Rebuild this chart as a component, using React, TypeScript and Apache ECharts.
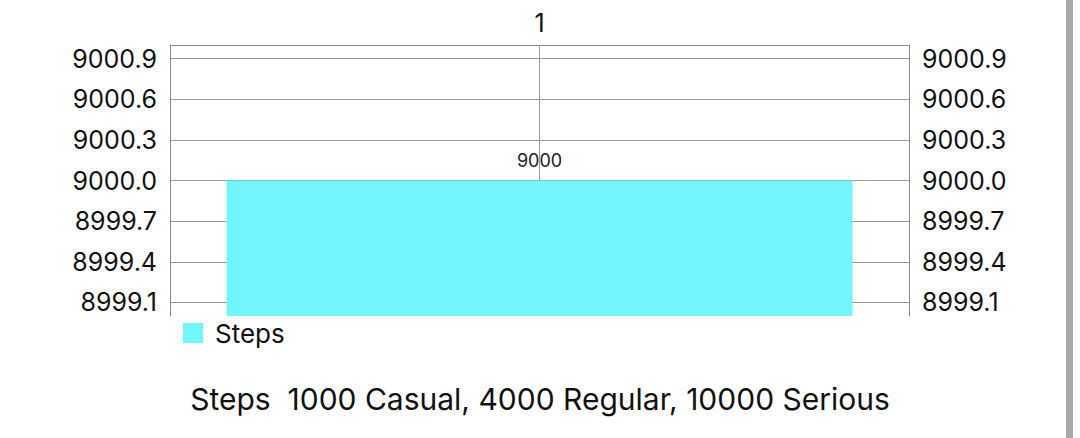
import React, { useEffect, useRef } from "react";
import * as echarts from "echarts";

const categories = ["1"];
const stepsValues = [9000];
const yTicks = [8999.1, 8999.4, 8999.7, 9000.0, 9000.3, 9000.6, 9000.9];
const yMin = 8999.0;
const yMax = 9001.0;
const seriesName = "Steps";
const titleText = "Steps  1000 Casual, 4000 Regular, 10000 Serious";

const FONT = "Inter, 'Noto Sans', sans-serif";

export default function App() {
  const ref = useRef<HTMLDivElement>(null);
  useEffect(() => {
    if (!ref.current) return;
    const chart = echarts.init(ref.current, undefined, { renderer: "svg" });
    const yAxisCommon = {
      type: "value",
      min: yMin,
      max: yMax,
      axisLine: { show: true, lineStyle: { color: "#8a8a8a", width: 1 } },
      axisTick: { show: false, customValues: yTicks },
      axisLabel: {
        customValues: yTicks,
        formatter: (v: number) => v.toFixed(1),
        fontFamily: FONT,
        fontSize: 25,
        color: "#111",
        margin: 13,
      },
      splitLine: { show: true, lineStyle: { color: "#999", width: 1 } },
    };
    chart.setOption({
      animation: false,
      backgroundColor: "#fff",
      textStyle: { fontFamily: FONT },
      title: {
        text: titleText,
        left: "center",
        top: 384,
        padding: 0,
        textStyle: { fontFamily: FONT, fontSize: 30, fontWeight: "normal", color: "#111" },
      },
      legend: {
        data: [seriesName],
        left: 183,
        top: 320,
        padding: 0,
        itemWidth: 20,
        itemHeight: 20,
        itemGap: 10,
        icon: "rect",
        textStyle: { fontFamily: FONT, fontSize: 26, color: "#111", padding: [0, 0, 0, 7] },
      },
      grid: { left: 170, right: 171, top: 45, bottom: 122 },
      xAxis: [
        {
          type: "category",
          data: categories,
          position: "top",
          axisLine: { show: true, lineStyle: { color: "#8a8a8a" } },
          axisTick: { show: false },
          axisLabel: { fontFamily: FONT, fontSize: 25, color: "#111", margin: 10 },
          splitLine: { show: false },
        },
        {
          type: "value",
          min: 0,
          max: 2,
          interval: 1,
          show: true,
          position: "bottom",
          axisLine: { show: false },
          axisTick: { show: false },
          axisLabel: { show: false },
          splitLine: { show: true, lineStyle: { color: "#999", width: 1 } },
        },
      ],
      yAxis: [
        { ...yAxisCommon, position: "left" },
        { ...yAxisCommon, position: "right", splitLine: { show: false } },
      ],
      series: [
        {
          name: seriesName,
          type: "bar",
          xAxisIndex: 0,
          yAxisIndex: 0,
          data: stepsValues,
          barWidth: 626,
          itemStyle: { color: "#72F5FC" },
          label: {
            show: true,
            position: "top",
            distance: 11,
            fontFamily: FONT,
            fontSize: 18,
            color: "#222",
          },
        },
      ],
      graphic: [
        {
          type: "rect",
          shape: { x: 1066, y: 0, width: 7, height: 438 },
          style: { fill: "#aaaaaa" },
          silent: true,
        },
      ],
    });
    return () => chart.dispose();
  }, []);
  return (
    <div
      ref={ref}
      style={{ position: "fixed", left: 0, top: 0, width: 1080, height: 438 }}
    />
  );
}
